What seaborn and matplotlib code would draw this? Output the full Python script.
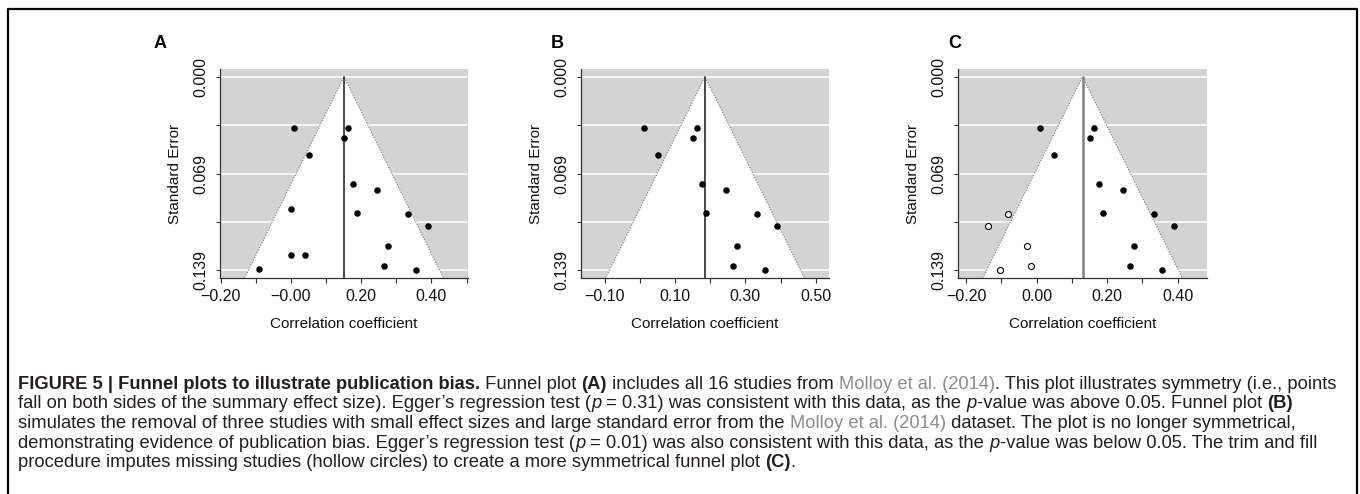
import numpy as np
import pandas as pd
import matplotlib
matplotlib.use("Agg")
import matplotlib.pyplot as plt
import seaborn as sns
from matplotlib.patches import Polygon
from matplotlib.lines import Line2D

# ---------------- data ----------------
kept_r = [0.010, 0.163, 0.150, 0.050, 0.177, 0.244, 0.189, 0.332, 0.389, 0.277, 0.266, 0.355]
kept_se = [0.0365, 0.0370, 0.0437, 0.0561, 0.0769, 0.0810, 0.0977, 0.0986, 0.1072, 0.1211, 0.1357, 0.1388]
removed_r = [0.000, 0.000, 0.040, -0.091]
removed_se = [0.0948, 0.1278, 0.1278, 0.1380]
imputed_r = [-0.080, -0.137, -0.026, -0.015, -0.103]
imputed_se = [0.0986, 0.1072, 0.1211, 0.1357, 0.1388]

summary_A = 0.151
summary_B = 0.185
summary_C = 0.130
se_max = 0.1388

panel_letters = ["A", "B", "C"]
se_tick_labels = ["0.000", "", "0.069", "", "0.139"]
xticks_A = [-0.2, -0.1, 0.0, 0.1, 0.2, 0.3, 0.4, 0.5]
xlabels_A = ["\u22120.20", "", "\u22120.00", "", "0.20", "", "0.40", ""]
xticks_B = [-0.1, 0.0, 0.1, 0.2, 0.3, 0.4, 0.5]
xlabels_B = ["\u22120.10", "", "0.10", "", "0.30", "", "0.50"]
xticks_C = [-0.2, -0.1, 0.0, 0.1, 0.2, 0.3, 0.4]
xlabels_C = ["\u22120.20", "", "0.00", "", "0.20", "", "0.40"]

df_A = pd.DataFrame({"r": kept_r + removed_r, "se": kept_se + removed_se})
df_B = pd.DataFrame({"r": kept_r, "se": kept_se})
df_C_obs = pd.DataFrame({"r": kept_r, "se": kept_se})
df_C_imp = pd.DataFrame({"r": imputed_r, "se": imputed_se})

# ---------------- style ----------------
sns.set_style("ticks")
plt.rcParams["font.family"] = ["Liberation Sans", "DejaVu Sans"]

W, H = 1360, 494
fig = plt.figure(figsize=(W / 100, H / 100), dpi=100)

def rect(left_px, right_px, top_px=69, bottom_px=278):
    return [left_px / W, 1 - bottom_px / H, (right_px - left_px) / W, (bottom_px - top_px) / H]

panel_specs = [
    (rect(220, 468), summary_A, xticks_A, xlabels_A, [df_A], "#3a3a3a"),
    (rect(581, 829), summary_B, xticks_B, xlabels_B, [df_B], "#3a3a3a"),
    (rect(958, 1207), summary_C, xticks_C, xlabels_C, [df_C_obs, df_C_imp], "#808080"),
]

half_range = 0.353
ylo = -0.04 * se_max
yhi = se_max * 1.04
se_ticks = list(np.linspace(0, se_max, 5))

axes = []
for (r_, c, xt, xl, dfs, vcol) in panel_specs:
    ax = fig.add_axes(r_)
    axes.append(ax)
    ax.set_facecolor("#d3d3d3")
    ax.set_xlim(c - half_range, c + half_range)
    ax.set_ylim(yhi, ylo)
    for yt in se_ticks:
        ax.axhline(yt, color="white", lw=1.1, zorder=1)
    half_bot = 1.96 * yhi
    funnel = Polygon([[c, 0], [c - half_bot, yhi], [c + half_bot, yhi]],
                     closed=True, facecolor="white", edgecolor="none", zorder=2)
    ax.add_patch(funnel)
    ax.plot([c - half_bot, c, c + half_bot], [yhi, 0, yhi], ls=(0, (1, 1.5)),
            color="#7a7a7a", lw=0.8, zorder=3)
    ax.plot([c, c], [0, yhi], color=vcol, lw=1.3 if vcol == "#3a3a3a" else 1.8, zorder=3)
    # points
    sns.scatterplot(data=dfs[0], x="r", y="se", ax=ax, color="black", s=22,
                    linewidth=0, zorder=5, legend=False)
    if len(dfs) > 1:
        sns.scatterplot(data=dfs[1], x="r", y="se", ax=ax, facecolor="white",
                        edgecolor="black", s=19, linewidth=0.8, zorder=5, legend=False)
    ax.set_xticks(xt)
    ax.set_xticklabels(xl, fontsize=11.5, color="#111111")
    ax.set_yticks(se_ticks)
    ax.set_yticklabels(se_tick_labels, rotation=90, va="center", fontsize=11.5, color="#111111")
    ax.tick_params(axis="x", length=3.6, width=0.8, color="#333333", pad=4.5)
    ax.tick_params(axis="y", length=3.0, width=0.8, color="#333333", pad=5.5)
    for s in ["top", "right"]:
        ax.spines[s].set_visible(False)
    for s in ["left", "bottom"]:
        ax.spines[s].set_color("#333333")
        ax.spines[s].set_linewidth(0.9)
    ax.set_xlabel("Correlation coefficient", fontsize=11, color="#111111", labelpad=9)
    ax.set_ylabel("Standard Error", fontsize=11, color="#111111", labelpad=8)

# panel letters
for letter, xpx in zip(panel_letters, [160, 557, 955]):
    fig.text(xpx / W, 1 - 44 / H, letter, fontsize=13, fontweight="bold",
             ha="center", va="center", color="black")

# figure frame (open at the bottom)
fig.add_artist(Line2D([8 / W, 8 / W, 1357 / W, 1357 / W], [0, 1 - 9 / H, 1 - 9 / H, 0],
                      color="black", lw=1.6, transform=fig.transFigure))

# ---------------- caption ----------------
TXT = "#231f20"
GRAY = "#8c8c8c"
caption_lines = [
    [("FIGURE 5 | Funnel plots to illustrate publication bias.", "b"), (" Funnel plot ", "n"), ("(A)", "b"),
     (" includes all 16 studies from ", "n"), ("Molloy et al. (2014)", "g"),
     (". This plot illustrates symmetry (i.e., points", "n")],
    [("fall on both sides of the summary effect size). Egger\u2019s regression test (", "n"), ("p", "i"),
     (" = 0.31) was consistent with this data, as the ", "n"), ("p", "i"),
     ("-value was above 0.05. Funnel plot ", "n"), ("(B)", "b")],
    [("simulates the removal of three studies with small effect sizes and large standard error from the ", "n"),
     ("Molloy et al. (2014)", "g"), (" dataset. The plot is no longer symmetrical,", "n")],
    [("demonstrating evidence of publication bias. Egger\u2019s regression test (", "n"), ("p", "i"),
     (" = 0.01) was also consistent with this data, as the ", "n"), ("p", "i"),
     ("-value was below 0.05. The trim and fill", "n")],
    [("procedure imputes missing studies (hollow circles) to create a more symmetrical funnel plot ", "n"),
     ("(C)", "b"), (".", "n")],
]
caption_y = [384, 404, 423, 443, 462]
caption_x0 = 18
target_w1 = 1325

fig.canvas.draw()
renderer = fig.canvas.get_renderer()

def style_kw(st, size):
    kw = dict(fontsize=size, color=TXT)
    if st == "b":
        kw["fontweight"] = "bold"
    elif st == "i":
        kw["fontstyle"] = "italic"
    elif st == "g":
        kw["color"] = GRAY
    return kw

def seg_width(txt, st, size):
    kw = style_kw(st, size)
    t1 = fig.text(0, 0, "x" + txt + "x", **kw)
    t2 = fig.text(0, 0, "xx", **kw)
    w = t1.get_window_extent(renderer).width - t2.get_window_extent(renderer).width
    t1.remove(); t2.remove()
    return w

base = 10.0
w1 = sum(seg_width(t, s, base) for t, s in caption_lines[0])
cap_size = base * target_w1 / w1

for line, ypx in zip(caption_lines, caption_y):
    x = caption_x0
    for txt, st in line:
        fig.text(x / W, 1 - ypx / H, txt, ha="left", va="center", **style_kw(st, cap_size))
        x += seg_width(txt, st, cap_size)

fig.savefig("out.png", dpi=100)
